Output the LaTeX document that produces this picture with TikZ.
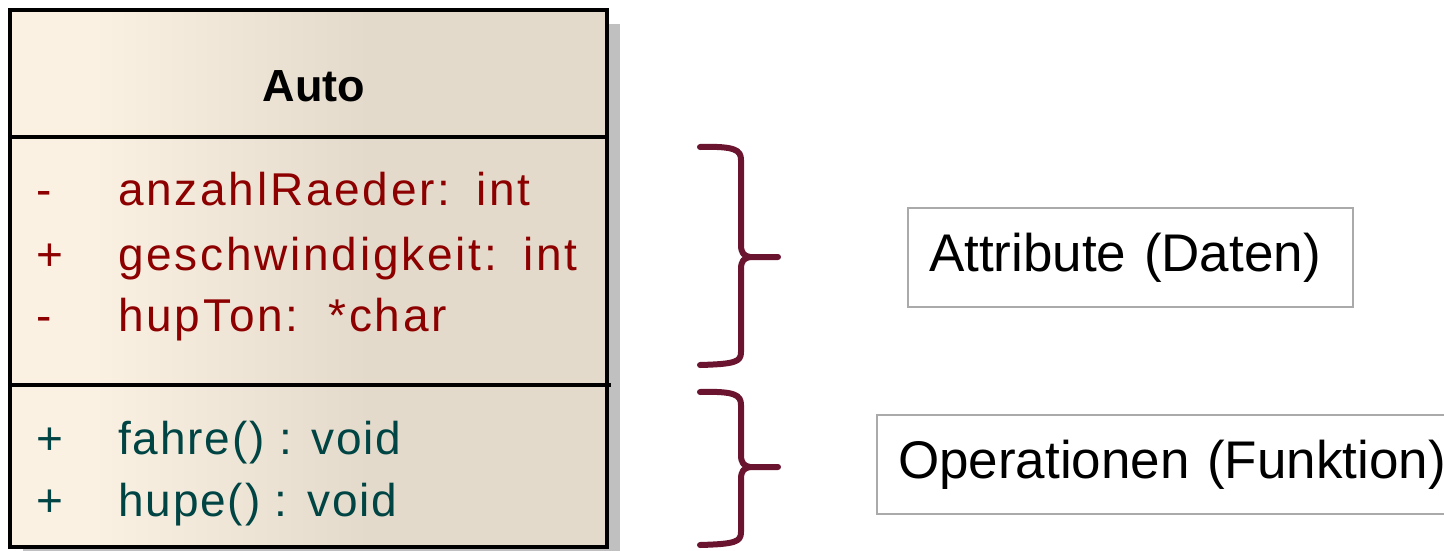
\documentclass[tikz,border=0pt]{standalone}
\usepackage{fontspec}
\setmainfont{Liberation Sans}
\newfontfamily\umlfont[LetterSpace=4]{Liberation Sans}
\newfontfamily\attrfont[LetterSpace=6]{Liberation Sans}
\definecolor{umlA}{RGB}{250,241,227}
\definecolor{umlB}{RGB}{227,218,203}
\definecolor{attrred}{RGB}{140,0,0}
\definecolor{opteal}{RGB}{0,68,68}
\definecolor{bracecol}{RGB}{107,20,48}
\definecolor{shadowgray}{RGB}{192,192,192}
\definecolor{labelgray}{RGB}{170,170,170}
\pgfdeclarehorizontalshading{umlbg}{100bp}{color(0bp)=(umlA); color(32bp)=(umlA); color(55bp)=(umlB); color(100bp)=(umlB)}
\tikzset{
  umltext/.style={anchor=base west, inner sep=0pt},
  attr/.style={umltext, text=attrred, font=\attrfont\fontsize{46}{55}\selectfont},
  oper/.style={umltext, text=opteal, font=\umlfont\fontsize{46}{55}\selectfont},
  bracepath/.style={draw=bracecol, line width=6pt, line cap=round, line join=round},
  labelbox/.style={draw=labelgray, line width=2pt, anchor=north west, minimum height=99pt,
     inner xsep=21pt, inner ysep=0pt, align=left, font=\fontsize{53}{60}\selectfont},
}
\begin{document}
\begin{tikzpicture}[x=1pt,y=-1pt]
\useasboundingbox (0,0) rectangle (1444,550);
\begin{scope}
\clip (0,0) rectangle (1444,550);
% shadow
\fill[shadowgray] (23,24) rectangle (620,561);
% class box
\shade[shading=umlbg] (10,10) rectangle (607,547);
\draw[line width=4pt] (10,137) -- (607,137);
\draw[line width=4pt] (10,385) -- (611,385);
\draw[line width=4pt] (10,10) rectangle (607,547);
% title
\node[anchor=base, inner sep=0pt, font=\bfseries\fontsize{45}{54}\selectfont] (title) at (314,101) {Auto};
% attributes
\node[attr] (s1) at (36,205) {-};
\node[attr] (a1) at (118,205) {anzahlRaeder:\hspace{26pt}int};
\node[attr] (s2) at (36,270) {+};
\node[attr] (a2) at (118,270) {geschwindigkeit:\hspace{26pt}int};
\node[attr] (s3) at (36,331) {-};
\node[attr] (a3) at (118,331) {hupTon:\hspace{30pt}*char};
% operations
\node[oper] (s4) at (36,454) {+};
\node[oper] (o1) at (118,454) {fahre() : void};
\node[oper] (s5) at (36,516) {+};
\node[oper] (o2) at (118,516) {hupe() : void};
% braces
\draw[bracepath] (700,147) .. controls (735,146) and (741,150) .. (741,160) -- (741,245)
   .. controls (741,253) and (744,256) .. (750,257) -- (778,257);
\draw[bracepath] (750,257) .. controls (744,258) and (741,261) .. (741,269) -- (741,352)
   .. controls (741,362) and (735,364) .. (700,365);
\draw[bracepath] (700,392) .. controls (735,391) and (741,395) .. (741,405) -- (741,455)
   .. controls (741,463) and (744,466) .. (750,467) -- (778,467);
\draw[bracepath] (750,467) .. controls (744,468) and (741,471) .. (741,479) -- (741,532)
   .. controls (741,542) and (735,544) .. (700,545);
% labels
\node[labelbox, minimum width=445pt, text width=403pt] (lab1) at (907,207) {Attribute (Daten)};
\node[labelbox, minimum width=620pt, text width=578pt] (lab2) at (876,414) {Operationen (Funktion)};
\end{scope}
\end{tikzpicture}
\end{document}
